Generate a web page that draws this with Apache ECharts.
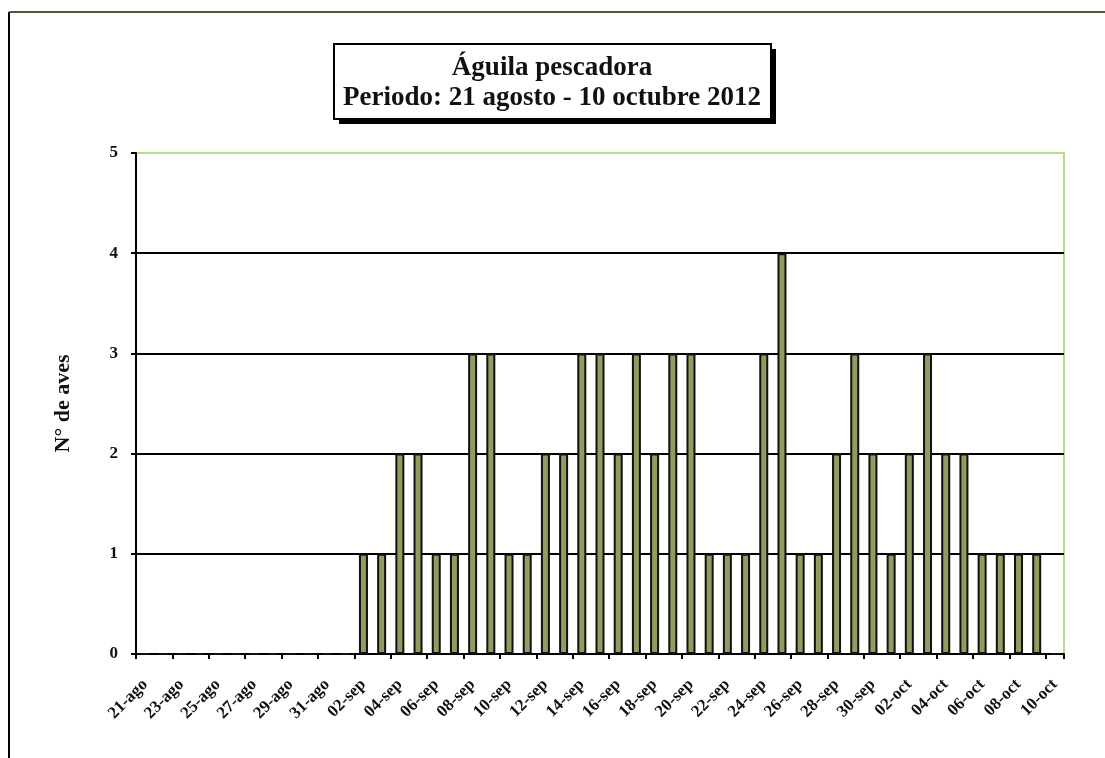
<!DOCTYPE html>
<html>
<head>
<meta charset="utf-8">
<script src="https://cdn.jsdelivr.net/npm/echarts@6/dist/echarts.min.js"></script>
<style>
  html, body { margin: 0; padding: 0; background: #ffffff; }
  #chart { width: 1105px; height: 758px; }
</style>
</head>
<body>
<div id="chart"></div>
<script>
// Daily osprey counts, 21 Aug - 10 Oct 2012
const days = [
  '21-ago','22-ago','23-ago','24-ago','25-ago','26-ago','27-ago','28-ago','29-ago','30-ago','31-ago',
  '01-sep','02-sep','03-sep','04-sep','05-sep','06-sep','07-sep','08-sep','09-sep','10-sep',
  '11-sep','12-sep','13-sep','14-sep','15-sep','16-sep','17-sep','18-sep','19-sep','20-sep',
  '21-sep','22-sep','23-sep','24-sep','25-sep','26-sep','27-sep','28-sep','29-sep','30-sep',
  '01-oct','02-oct','03-oct','04-oct','05-oct','06-oct','07-oct','08-oct','09-oct','10-oct'
];
const birds = [
  0,0,0,0,0,0,0,0,0,0,0,
  0,1,1,2,2,1,1,3,3,1,
  1,2,2,3,3,2,3,2,3,3,
  1,1,1,3,4,1,1,2,3,2,
  1,2,3,2,2,1,1,1,1,0
];
const titleLines = ['Águila pescadora', 'Periodo: 21 agosto - 10 octubre 2012'];
const yAxisName = 'N° de aves';

const serif = "'Liberation Serif', 'Times New Roman', serif";
const ink = '#111111';
const paleGreen = '#b9dc8f';

const chart = echarts.init(document.getElementById('chart'), null, { renderer: 'canvas' });

const titleFont = { fontFamily: serif, fontWeight: 'bold', fontSize: 27, fill: ink, align: 'center', verticalAlign: 'middle' };

chart.setOption({
  animation: false,
  backgroundColor: '#ffffff',
  graphic: [
    // outer frame (left and top edges)
    { type: 'line', shape: { x1: 9, y1: 12, x2: 9, y2: 758 }, style: { stroke: '#000000', lineWidth: 2 } },
    { type: 'line', shape: { x1: 9, y1: 12, x2: 1105, y2: 12 }, style: { stroke: '#4d5a3a', lineWidth: 2 } },
    // title box with drop shadow
    { type: 'rect', z: 1, shape: { x: 339, y: 49, width: 437, height: 75 }, style: { fill: '#000000' } },
    { type: 'rect', z: 2, shape: { x: 334, y: 44, width: 437, height: 75 }, style: { fill: '#ffffff', stroke: '#000000', lineWidth: 2 } },
    { type: 'text', z: 3, x: 552, y: 68, style: Object.assign({ text: titleLines[0] }, titleFont) },
    { type: 'text', z: 3, x: 552, y: 98, style: Object.assign({ text: titleLines[1] }, titleFont) }
  ],
  grid: {
    left: 136,
    right: 41,
    top: 153,
    bottom: 104,
    show: true,
    backgroundColor: '#ffffff',
    borderColor: paleGreen,
    borderWidth: 2
  },
  xAxis: {
    type: 'category',
    data: days,
    boundaryGap: true,
    axisLine: { lineStyle: { color: '#000000', width: 2 } },
    axisTick: { show: true, interval: 1, length: 5, lineStyle: { color: '#000000', width: 2 } },
    axisLabel: {
      interval: 1,
      rotate: 45,
      margin: 28,
      fontFamily: serif,
      fontWeight: 'bold',
      fontSize: 17,
      color: ink
    },
    splitLine: { show: false }
  },
  yAxis: {
    type: 'value',
    min: 0,
    max: 5,
    interval: 1,
    name: yAxisName,
    nameLocation: 'middle',
    nameRotate: 90,
    nameGap: 62,
    nameTextStyle: {
      fontFamily: serif,
      fontWeight: 'bold',
      fontSize: 22,
      color: ink
    },
    axisLine: { show: true, lineStyle: { color: '#000000', width: 2 } },
    axisTick: { show: true, length: 5, lineStyle: { color: '#000000', width: 2 } },
    axisLabel: {
      margin: 18,
      fontFamily: serif,
      fontWeight: 'bold',
      fontSize: 17,
      color: ink
    },
    splitLine: {
      show: true,
      lineStyle: { color: ['#000000', '#000000', '#000000', '#000000', '#000000', paleGreen], width: 2 }
    }
  },
  series: [{
    type: 'bar',
    data: birds,
    barWidth: 9,
    itemStyle: {
      color: '#8f9d5f',
      borderColor: '#111111',
      borderWidth: 2
    }
  }]
});
</script>
</body>
</html>
